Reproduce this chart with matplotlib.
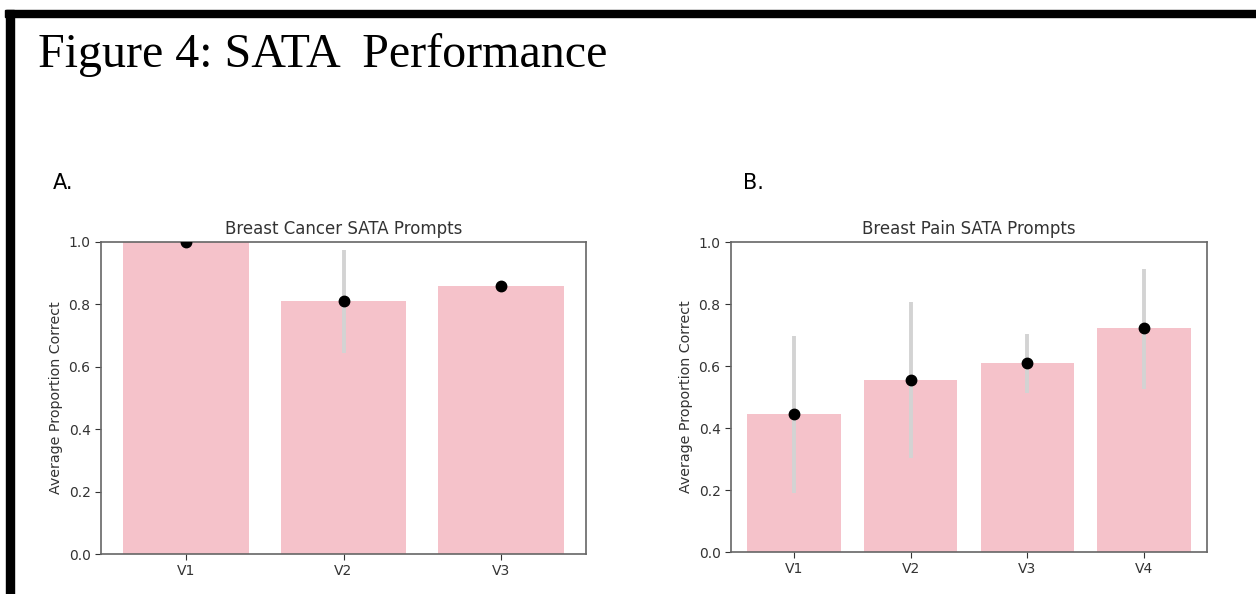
"""
plot.py
-------
Figure 4: SATA performance (bar + point/CI overlay), two panels.
Writes out.png.
"""
import matplotlib
matplotlib.use("Agg")
import matplotlib.pyplot as plt
from matplotlib.patches import Rectangle

# ── data ──────────────────────────────────────────────────────────────────────
cancer_labels = ["V1", "V2", "V3"]
cancer_mean = [1.0, 0.81, 0.86]
cancer_lo = [1.0, 0.643, 0.858]
cancer_hi = [1.0, 0.973, 0.862]

pain_labels = ["V1", "V2", "V3", "V4"]
pain_mean = [0.445, 0.556, 0.611, 0.722]
pain_lo = [0.189, 0.302, 0.512, 0.525]
pain_hi = [0.696, 0.806, 0.704, 0.912]

BAR = "#f5c2ca"
ERR = "#d3d3d3"
W, H = 1256, 594


def _panel(fig, rect, labels, mean, lo, hi, title):
    ax = fig.add_axes(rect)
    x = list(range(len(labels)))
    ax.bar(x, mean, width=0.8, color=BAR, zorder=1)
    ax.vlines(x, lo, hi, color=ERR, lw=2.8, zorder=2)
    # points are clipped by the axes, like the original (V1 on panel A is a half dot)
    ax.plot(x, mean, "o", color="black", ms=7.5, zorder=3)
    ax.set_xlim(-0.54, len(labels) - 1 + 0.54)
    ax.set_ylim(0, 1.0)
    ax.set_xticks(x)
    ax.set_xticklabels(labels)
    ax.set_yticks([0.0, 0.2, 0.4, 0.6, 0.8, 1.0])
    ax.tick_params(labelsize=10, colors="#333333", length=4)
    for s in ax.spines.values():
        s.set_color("#666666")
        s.set_linewidth(1.2)
    ax.set_ylabel("Average Proportion Correct", fontsize=10.3, color="#333333")
    ax.set_title(title, fontsize=12, color="#333333", pad=6)
    return ax


def main() -> None:
    fig = plt.figure(figsize=(W / 100, H / 100), dpi=100)

    # black frame (top + left edge of the screenshot)
    fig.patches.append(Rectangle((5 / W, 1 - 17 / H), 1, 7 / H, transform=fig.transFigure,
                                 color="black", zorder=0))
    fig.patches.append(Rectangle((6 / W, 0), 8 / W, 1 - 10 / H, transform=fig.transFigure,
                                 color="black", zorder=0))

    fig.text(38 / W, 1 - 55 / H, "Figure 4: SATA  Performance", fontsize=34.6,
             family="Liberation Serif", va="center", ha="left")
    fig.text(53 / W, 1 - 183 / H, "A.", fontsize=15, va="center", ha="left")
    fig.text(743 / W, 1 - 183 / H, "B.", fontsize=15, va="center", ha="left")

    _panel(fig, [101 / W, 40 / H, 485 / W, 312 / H], cancer_labels, cancer_mean,
           cancer_lo, cancer_hi, "Breast Cancer SATA Prompts")
    _panel(fig, [731 / W, 42 / H, 476 / W, 310 / H], pain_labels, pain_mean,
           pain_lo, pain_hi, "Breast Pain SATA Prompts")

    fig.savefig("out.png", dpi=100)
    plt.close(fig)


if __name__ == "__main__":
    main()
